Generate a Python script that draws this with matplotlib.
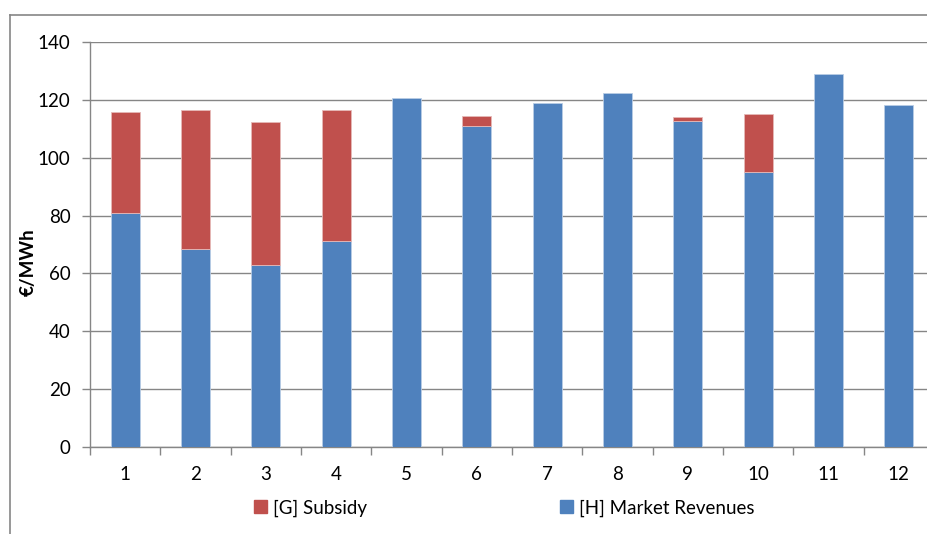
import matplotlib
matplotlib.use("Agg")
import matplotlib.pyplot as plt
import numpy as np
from matplotlib.patches import Patch
from matplotlib.lines import Line2D

# values (EUR/MWh)
cases = ["1", "2", "3", "4", "5", "6", "7", "8", "9", "10", "11", "12"]
market_rev = [80.8, 68.3, 62.8, 71.2, 120.5, 111.0, 118.9, 122.4, 112.7, 95.1, 128.8, 118.1]
subsidy = [35.1, 48.2, 49.4, 45.2, 0.0, 3.3, 0.0, 0.0, 1.5, 19.9, 0.0, 0.0]

blue = "#4F81BD"
red = "#C0504D"
gray = "#868686"
fs = 13.5

plt.rcParams['font.family'] = ['Lato', 'DejaVu Sans']

fig = plt.figure(figsize=(9.27, 5.34), dpi=100)
ax = fig.add_axes([90/927, 1-447/534, 844/927, 405/534])

x = np.arange(len(cases))
ax.bar(x, market_rev, width=0.41, color=blue, edgecolor="#B9CDE5", linewidth=0.6, zorder=3)
# only cases that actually have a subsidy, so no empty red edges show up
has_sub = [i for i in range(len(cases)) if subsidy[i] > 0]
ax.bar([x[i] for i in has_sub], [subsidy[i] for i in has_sub], width=0.41,
       bottom=[market_rev[i] for i in has_sub], color=red, edgecolor="#E6B9B8",
       linewidth=0.6, zorder=3)

ax.set_xlim(-0.5, len(cases) - 0.5)
ax.set_ylim(0, 140)
ax.set_yticks(np.arange(0, 141, 20))
ax.set_xticks(x)
ax.set_xticklabels(cases)
ax.set_xticks(np.arange(-0.5, len(cases), 1), minor=True)
ax.tick_params(axis='x', which='major', length=0, pad=14, labelsize=fs)
ax.tick_params(axis='x', which='minor', length=6, color=gray, width=1)
ax.tick_params(axis='y', length=6, color=gray, width=1, pad=8, labelsize=fs)

ax.grid(axis='y', color=gray, linewidth=1, zorder=0)
for s in ['top', 'right']:
    ax.spines[s].set_visible(False)
for s in ['left', 'bottom']:
    ax.spines[s].set_color(gray)
    ax.spines[s].set_linewidth(1)

fig.text(28/927, 1-262/534, "€/MWh", rotation=90, ha='center', va='center',
         fontsize=fs, fontweight='bold')

# outer chart border (top and left visible)
fig.add_artist(Line2D([10/927, 10/927], [0, 1-15/534], transform=fig.transFigure, color=gray, linewidth=1.2))
fig.add_artist(Line2D([10/927, 1], [1-15/534, 1-15/534], transform=fig.transFigure, color=gray, linewidth=1.2))

handles = [Patch(color=red, label="[G] Subsidy"), Patch(color=blue, label="[H] Market Revenues")]
fig.legend(handles=handles, loc='center', bbox_to_anchor=(504/927, 1-508/534), ncol=2,
           frameon=False, fontsize=fs, handlelength=0.7, handleheight=0.7,
           handletextpad=0.3, columnspacing=10.3)

fig.savefig("out.png", dpi=100)
